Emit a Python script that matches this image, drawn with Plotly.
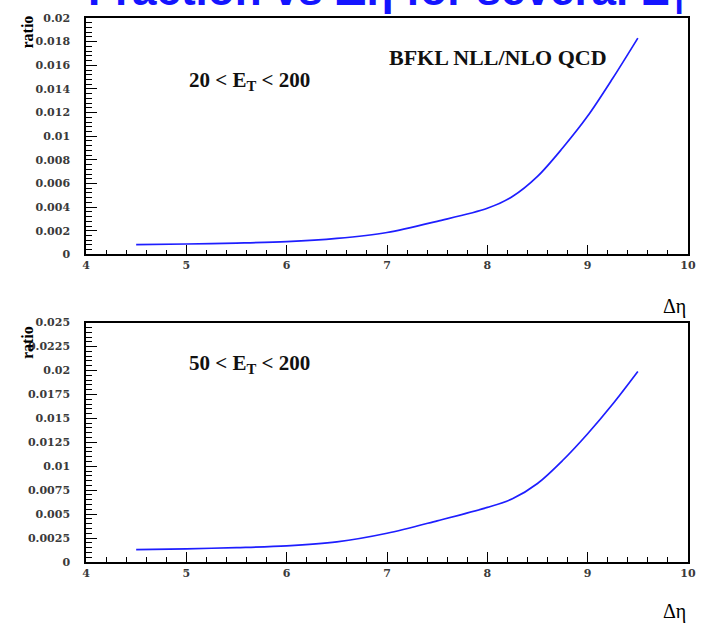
import plotly.graph_objects as go

# Delta-eta grid and BFKL NLL / NLO QCD ratio for the two E_T ranges
delta_eta = [4.5, 5.0, 5.5, 6.0, 6.5, 7.0, 7.5, 8.0, 8.25, 8.5, 8.75, 9.0, 9.25, 9.5]
ratio_et20 = [0.00082, 0.00088, 0.00096, 0.00108, 0.00135, 0.00185, 0.0028,
              0.0039, 0.0049, 0.0066, 0.0090, 0.0117, 0.0149, 0.0183]
ratio_et50 = [0.00130, 0.00138, 0.00150, 0.00168, 0.0021, 0.0030, 0.0043,
              0.0057, 0.0066, 0.0082, 0.0106, 0.0134, 0.0165, 0.0199]

x_ticks = [4, 5, 6, 7, 8, 9, 10]
x_ticklabels = ["4", "5", "6", "7", "8", "9", "10"]
y_ticks_top = [0, 0.002, 0.004, 0.006, 0.008, 0.01, 0.012, 0.014, 0.016, 0.018, 0.02]
y_ticklabels_top = ["0", "0.002", "0.004", "0.006", "0.008", "0.01", "0.012",
                    "0.014", "0.016", "0.018", "0.02"]
y_ticks_bot = [0, 0.0025, 0.005, 0.0075, 0.01, 0.0125, 0.015, 0.0175, 0.02, 0.0225, 0.025]
y_ticklabels_bot = ["0", "0.0025", "0.005", "0.0075", "0.01", "0.0125", "0.015",
                    "0.0175", "0.02", "0.0225", "0.025"]

W, H = 708, 624
ML, MR, MT, MB = 86, 13, 12, 62
PW, PH = W - ML - MR, H - MT - MB


def px_x(px):
    return (px - ML) / PW


def px_y(py):
    return (H - MB - py) / PH


SERIF = "Liberation Serif"
TICKFONT = dict(family="DejaVu Serif", size=11, color="#3a3a3a", weight="bold")
CURVE = "rgb(30,30,255)"

fig = go.Figure()
fig.add_trace(go.Scatter(x=delta_eta, y=ratio_et20, mode="lines",
                         line=dict(color=CURVE, width=1.7, shape="spline", smoothing=0.9),
                         xaxis="x", yaxis="y", showlegend=False))
fig.add_trace(go.Scatter(x=delta_eta, y=ratio_et50, mode="lines",
                         line=dict(color=CURVE, width=1.7, shape="spline", smoothing=0.9),
                         xaxis="x2", yaxis="y2", showlegend=False))

common_x = dict(range=[4, 10], tickvals=x_ticks, ticktext=x_ticklabels,
                ticks="inside", ticklen=10, tickwidth=1, tickcolor="black",
                minor=dict(dtick=0.2, ticks="inside", ticklen=5, tickcolor="black"),
                showline=True, linecolor="black", linewidth=1.5, mirror=True,
                showgrid=False, zeroline=False, ticklabelstandoff=0,
                tickfont=TICKFONT)
common_y = dict(ticks="inside", ticklen=11, tickwidth=1, tickcolor="black",
                showline=True, linecolor="black", linewidth=1.5, mirror=True,
                showgrid=False, zeroline=False, ticklabelstandoff=12,
                tickfont=TICKFONT)

top_lo = px_y(251)
bot_hi = px_y(320)

fig.update_layout(
    width=W, height=H, margin=dict(l=ML, r=MR, t=MT, b=MB),
    paper_bgcolor="white", plot_bgcolor="white",
    xaxis=dict(common_x, anchor="y"),
    yaxis=dict(common_y, domain=[top_lo, 1], range=[0, 0.02],
               tickvals=y_ticks_top, ticktext=y_ticklabels_top,
               minor=dict(dtick=0.0004, ticks="inside", ticklen=6, tickcolor="black")),
    xaxis2=dict(common_x, anchor="y2"),
    yaxis2=dict(common_y, domain=[0, bot_hi], range=[0, 0.025],
                tickvals=y_ticks_bot, ticktext=y_ticklabels_bot,
                minor=dict(dtick=0.0005, ticks="inside", ticklen=6, tickcolor="black")),
)


def note(text, px, py, size, xanchor="center", yanchor="middle", angle=0,
         family=SERIF, color="black", weight="normal"):
    return dict(text=text, x=px_x(px), y=px_y(py), xref="paper", yref="paper",
                xanchor=xanchor, yanchor=yanchor, textangle=angle, showarrow=False,
                font=dict(family=family, size=size, color=color, weight=weight))


ann = [
    # page title, running off the top of the page
    note("Fraction vs Δη for several E<sub>T</sub>", 86, 17, 44, xanchor="left",
         yanchor="bottom", family="Liberation Sans", color="rgb(20,20,255)",
         weight="bold"),
    # axis titles
    note("ratio", 27, 26, 16, angle=-90, weight="bold"),
    note("ratio", 27, 340, 16, angle=-90, weight="bold"),
    note("Δη", 681, 304, 20),
    note("Δη", 681, 612, 20),
    # panel labels
    note("BFKL NLL/NLO QCD", 390, 52, 22, xanchor="left", color="#111", weight="bold"),
    note("20 < E<sub>T</sub> < 200", 188, 76, 21, xanchor="left", color="#111",
         weight="bold"),
    note("50 < E<sub>T</sub> < 200", 188, 362, 21, xanchor="left", color="#111",
         weight="bold"),
]
fig.update_layout(annotations=ann)

fig.write_html("out.html")
